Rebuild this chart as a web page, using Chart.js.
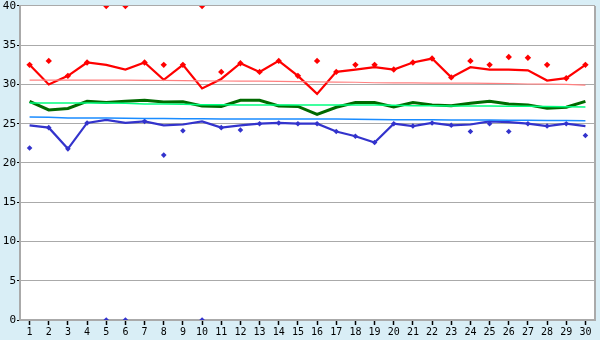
<!DOCTYPE html>
<html>
<head>
<meta charset="utf-8">
<script src="https://cdn.jsdelivr.net/npm/chart.js@4.4.1/dist/chart.umd.min.js"></script>
<style>
html,body{margin:0;padding:0;background:#d9eef6;}
#wrap{width:600px;height:340px;}
</style>
</head>
<body>
<div id="wrap"><canvas id="c" width="600" height="340"></canvas></div>
<script>
const days = ['1','2','3','4','5','6','7','8','9','10','11','12','13','14','15','16','17','18','19','20','21','22','23','24','25','26','27','28','29','30'];
const yTicks = [0,5,10,15,20,25,30,35,40];

const maxLine = [32.5,30.0,31.1,32.8,32.5,31.9,32.8,30.6,32.5,29.5,30.7,32.7,31.6,33.0,31.1,28.8,31.6,31.9,32.2,31.9,32.8,33.3,30.9,32.2,31.9,31.9,31.8,30.5,30.8,32.5];
const maxPoints = [32.5,33.0,31.1,32.8,40,40,32.8,32.5,32.5,40,31.6,32.7,31.6,33.0,31.1,33.0,31.6,32.5,32.5,31.9,32.8,33.3,30.9,33.0,32.5,33.5,33.4,32.5,30.8,32.5];
const avgLine = [27.85,26.75,26.95,27.85,27.7,27.85,27.98,27.77,27.8,27.26,27.2,27.98,27.98,27.26,27.2,26.2,27.1,27.7,27.7,27.13,27.7,27.4,27.3,27.6,27.85,27.5,27.4,26.96,27.1,27.85];
const minLine = [24.8,24.5,21.8,25.1,25.5,25.1,25.3,24.8,24.9,25.3,24.5,24.8,25.0,25.1,25.0,25.0,24.0,23.4,22.6,25.0,24.7,25.1,24.8,24.9,25.3,25.2,25.0,24.7,25.0,24.7];
const minPoints = [21.9,24.5,21.8,25.1,0,0,25.3,21.0,24.1,0,24.5,24.2,25.0,25.1,25.0,25.0,24.0,23.4,22.6,25.0,24.7,25.1,24.8,24.0,25.0,24.0,25.0,24.7,25.0,23.5];
const normalMax = [30.56,30.56,30.56,30.55,30.55,30.54,30.53,30.51,30.49,30.45,30.44,30.43,30.42,30.4,30.35,30.32,30.3,30.28,30.22,30.2,30.19,30.18,30.17,30.16,30.14,30.12,30.06,30.04,30.0,29.92];
const normalAvg = [27.65,27.65,27.64,27.64,27.63,27.6,27.52,27.5,27.48,27.42,27.41,27.4,27.4,27.4,27.4,27.4,27.39,27.38,27.37,27.35,27.3,27.28,27.27,27.26,27.25,27.24,27.22,27.2,27.15,27.13];
const normalMin = [25.86,25.82,25.74,25.73,25.72,25.7,25.68,25.66,25.64,25.62,25.61,25.6,25.6,25.6,25.6,25.6,25.6,25.58,25.55,25.52,25.5,25.49,25.48,25.47,25.46,25.45,25.44,25.42,25.4,25.38];

const areaPlugin = {
  id: 'area',
  beforeDraw(chart) {
    const {ctx, chartArea: a} = chart;
    ctx.save();
    ctx.fillStyle = '#ffffff';
    ctx.fillRect(a.left, a.top, a.right - a.left, a.bottom - a.top);
    ctx.restore();
  },
  afterDraw(chart) {
    const {ctx, chartArea: a} = chart;
    ctx.save();
    ctx.strokeStyle = '#aaaaaa';
    ctx.lineWidth = 2;
    ctx.beginPath();
    ctx.moveTo(a.right, a.top);
    ctx.lineTo(a.right, a.bottom);
    ctx.stroke();
    ctx.restore();
  }
};

const lineDs = (data, color, width) => ({
  type: 'line', data, borderColor: color, backgroundColor: color,
  borderWidth: width, pointRadius: 0, tension: 0, fill: false
});
const ptDs = (data, color, r) => ({
  type: 'line', data, showLine: false, pointStyle: 'rectRot',
  pointRadius: r, pointBorderWidth: 0, pointBackgroundColor: color, borderColor: color, backgroundColor: color
});

new Chart(document.getElementById('c'), {
  type: 'line',
  data: {
    labels: days,
    datasets: [
      lineDs(normalMax, '#ff8080', 1.2),
      lineDs(normalAvg, '#00ff80', 1.5),
      lineDs(normalMin, '#1a8cff', 1.5),
      lineDs(avgLine, '#006a00', 3),
      lineDs(maxLine, '#ff0000', 2.2),
      lineDs(minLine, '#3333cc', 2.2),
      ptDs(maxPoints, '#ff0000', 3.2),
      ptDs(minPoints, '#3333cc', 2.8)
    ]
  },
  options: {
    responsive: false,
    animation: false,
    events: [],
    layout: {padding: {top: 5, right: 5, left: 0, bottom: 0}},
    plugins: {legend: {display: false}, tooltip: {enabled: false}},
    scales: {
      x: {
        type: 'category',
        offset: true,
        grid: {drawOnChartArea: false, drawTicks: true, tickLength: 5, tickColor: '#000000', tickWidth: 1.5},
        border: {color: '#aaaaaa', width: 2},
        ticks: {color: '#000000', padding: 2, maxRotation: 0, autoSkip: false,
                font: {family: 'DejaVu Sans Mono', size: 10, lineHeight: 1}},
        afterFit(s) { s.height = 20; }
      },
      y: {
        min: 0, max: 40,
        afterBuildTicks(s) { s.ticks = yTicks.map(v => ({value: v})); },
        grid: {color: '#aaaaaa', lineWidth: 1, drawTicks: true, tickLength: 3, tickColor: '#000000'},
        border: {color: '#aaaaaa', width: 2},
        ticks: {color: '#000000', padding: 1,
                font: {family: 'DejaVu Sans Mono', size: 11, lineHeight: 0.9}},
        afterFit(s) { s.width = 20; }
      }
    }
  },
  plugins: [areaPlugin]
});
</script>
</body>
</html>
